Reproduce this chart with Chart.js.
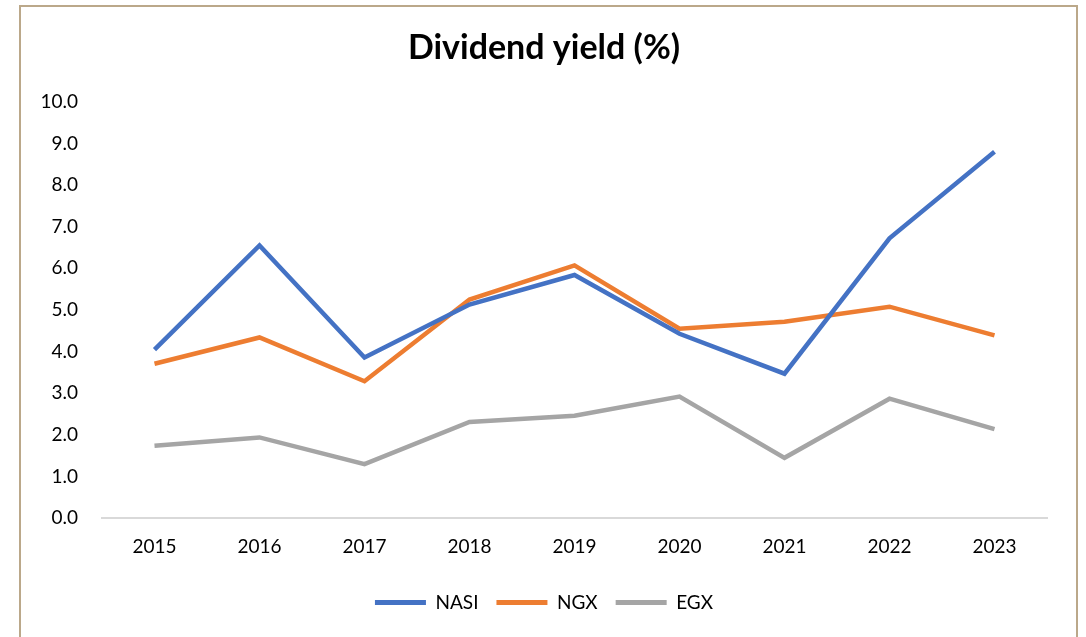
<!DOCTYPE html>
<html>
<head>
<meta charset="utf-8">
<script src="https://cdn.jsdelivr.net/npm/chart.js@4.4.1/dist/chart.umd.min.js"></script>
<style>
  html, body { margin: 0; padding: 0; background: #fff; }
  #wrap { position: relative; width: 1086px; height: 637px; overflow: hidden; }
  #frame { position: absolute; left: 19px; top: 5px; width: 1055px; height: 700px; border: 2px solid #bba88a; }
  #wrap canvas { position: absolute; left: 0; top: 0; }
</style>
</head>
<body>
<div id="wrap">
  <div id="frame"></div>
  <canvas id="yieldChart" width="1086" height="637"></canvas>
</div>
<script>
// years on the x axis
var years = ['2015', '2016', '2017', '2018', '2019', '2020', '2021', '2022', '2023'];

// dividend yield (%) per market
var nasi = [4.05, 6.55, 3.86, 5.13, 5.84, 4.43, 3.47, 6.72, 8.80];
var ngx = [3.71, 4.34, 3.29, 5.25, 6.07, 4.55, 4.72, 5.08, 4.39];
var egx = [1.74, 1.94, 1.30, 2.31, 2.46, 2.92, 1.45, 2.87, 2.14];

var yTicks = [0, 1, 2, 3, 4, 5, 6, 7, 8, 9, 10];

var font = 'Lato, "Liberation Sans", sans-serif';

function line(label, values, color) {
    return {
        label: label,
        data: values,
        borderColor: color,
        backgroundColor: color,
        borderWidth: 4.5,
        pointRadius: 0,
        tension: 0,
        borderJoinStyle: 'miter'
    };
}

var ctx = document.getElementById('yieldChart');

var myChart = new Chart(ctx, {
    type: 'line',
    data: {
        labels: years,
        datasets: [
            line('NASI', nasi, '#4472c4'),
            line('NGX', ngx, '#ed7d31'),
            line('EGX', egx, '#a5a5a5')
        ]
    },
    options: {
        responsive: false,
        animation: false,
        // left padding as wide as the y labels allow, so title and legend sit a bit right of centre
        layout: { padding: { left: 41, right: 39, top: 0, bottom: 15 } },
        plugins: {
            title: {
                display: true,
                text: 'Dividend yield (%)',
                color: '#000',
                font: { family: font, size: 34, weight: 'bold' },
                padding: { top: 28, bottom: 33 }
            },
            legend: {
                position: 'bottom',
                labels: {
                    color: '#000',
                    font: { family: font, size: 19 },
                    boxWidth: 51,
                    boxHeight: 5,
                    padding: 18,
                    generateLabels: function (chart) {
                        var items = Chart.defaults.plugins.legend.labels.generateLabels(chart);
                        items.forEach(function (it) { it.lineWidth = 0; });
                        return items;
                    }
                }
            },
            tooltip: { enabled: false }
        },
        scales: {
            x: {
                offset: true,
                grid: { display: false, drawTicks: false },
                border: { color: '#d9d9d9', width: 2 },
                ticks: { color: '#000', font: { family: font, size: 19 }, padding: 17 }
            },
            y: {
                min: 0,
                max: 10,
                afterFit: function (scale) { scale.width = 61; },
                afterBuildTicks: function (scale) {
                    scale.ticks = yTicks.map(function (v) { return { value: v }; });
                },
                grid: { display: false, drawTicks: false },
                border: { display: false },
                ticks: {
                    color: '#000',
                    font: { family: font, size: 19 },
                    padding: 24,
                    callback: function (v) { return Number(v).toFixed(1); }
                }
            }
        }
    }
});
</script>
</body>
</html>
